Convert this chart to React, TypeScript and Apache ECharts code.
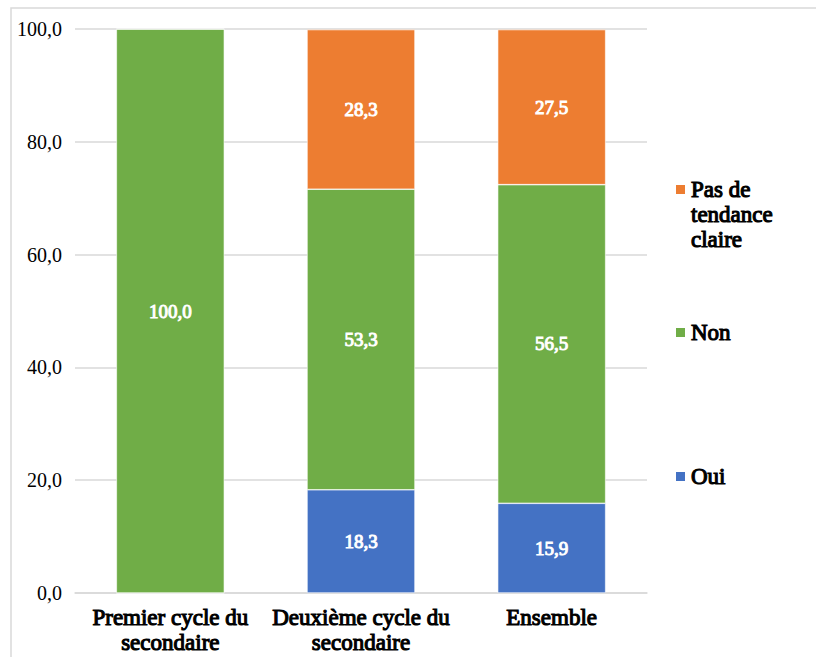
import React, { useEffect, useRef } from "react";
import * as echarts from "echarts";

const categories = ["Premier cycle du\nsecondaire", "Deuxième cycle du\nsecondaire", "Ensemble"];
const oui = [0, 18.3, 15.9];
const non = [100, 53.3, 56.5];
const pasDeTendance = [0, 28.3, 27.5];
const yTicks = { min: 0, max: 100, interval: 20 };

const FONT = "Liberation Serif";
const fmt = (v: number) => v.toFixed(1).replace(".", ",");

export default function App() {
  const ref = useRef<HTMLDivElement>(null);
  useEffect(() => {
    if (!ref.current) return;
    const chart = echarts.init(ref.current, undefined, { renderer: "svg" });
    const label = {
      show: true,
      position: "inside",
      color: "#ffffff",
      fontFamily: FONT,
      fontSize: 19,
      textBorderColor: "#ffffff",
      textBorderWidth: 1,
      formatter: (p: any) => (p.value ? fmt(p.value) : ""),
    };
    const legendBase = {
      orient: "vertical",
      left: 669,
      itemWidth: 11,
      itemHeight: 11,
      itemGap: 0,
      icon: "rect",
      selectedMode: false,
      textStyle: {
        fontFamily: FONT,
        fontSize: 23,
        color: "#000",
        lineHeight: 25,
        textBorderColor: "#000",
        textBorderWidth: 1.1,
      },
    };
    chart.setOption({
      animation: false,
      backgroundColor: "#ffffff",
      graphic: [
        {
          type: "rect",
          shape: { x: 11, y: 8, width: 900, height: 800 },
          style: { fill: "none", stroke: "#d9d9d9", lineWidth: 1.5 },
          silent: true,
        },
      ],
      legend: [
        {
          ...legendBase,
          top: 172,
          itemHeight: 61,
          icon: "path://M0,0H11V11H0Z M0,61H11V61.01H0Z",
          data: ["Pas de tendance claire"],
          formatter: () => "Pas de\ntendance\nclaire",
        },
        { ...legendBase, top: 315, data: ["Non"] },
        { ...legendBase, top: 459, data: ["Oui"] },
      ],
      grid: { left: 75, right: 169, top: 29, bottom: 64, containLabel: false },
      xAxis: {
        type: "category",
        data: categories,
        axisTick: { show: false },
        axisLine: { show: true, lineStyle: { color: "#d9d9d9", width: 1.5 } },
        axisLabel: {
          fontFamily: FONT,
          fontSize: 23,
          color: "#000",
          textBorderColor: "#000",
          textBorderWidth: 1.1,
          lineHeight: 25,
          margin: 12,
          interval: 0,
        },
      },
      yAxis: {
        type: "value",
        min: yTicks.min,
        max: yTicks.max,
        interval: yTicks.interval,
        axisLine: { show: false },
        axisTick: { show: false },
        splitLine: { lineStyle: { color: "#d9d9d9", width: 1.5 } },
        axisLabel: {
          fontFamily: FONT,
          fontSize: 20,
          color: "#000",
          margin: 13,
          formatter: (v: number) => fmt(v),
        },
      },
      series: [
        {
          name: "Oui",
          type: "bar",
          stack: "total",
          barWidth: 108,
          data: oui,
          itemStyle: { color: "#4472C4", borderColor: "#ffffff", borderWidth: 0.6 },
          label,
        },
        {
          name: "Non",
          type: "bar",
          stack: "total",
          barWidth: 108,
          data: non,
          itemStyle: { color: "#70AD47", borderColor: "#ffffff", borderWidth: 0.6 },
          label,
        },
        {
          name: "Pas de tendance claire",
          type: "bar",
          stack: "total",
          barWidth: 108,
          data: pasDeTendance,
          itemStyle: { color: "#ED7D31", borderColor: "#ffffff", borderWidth: 0.6 },
          label,
        },
      ],
    });
    return () => chart.dispose();
  }, []);
  return (
    <div
      ref={ref}
      style={{ position: "absolute", left: 0, top: 0, width: 816, height: 657 }}
    />
  );
}
